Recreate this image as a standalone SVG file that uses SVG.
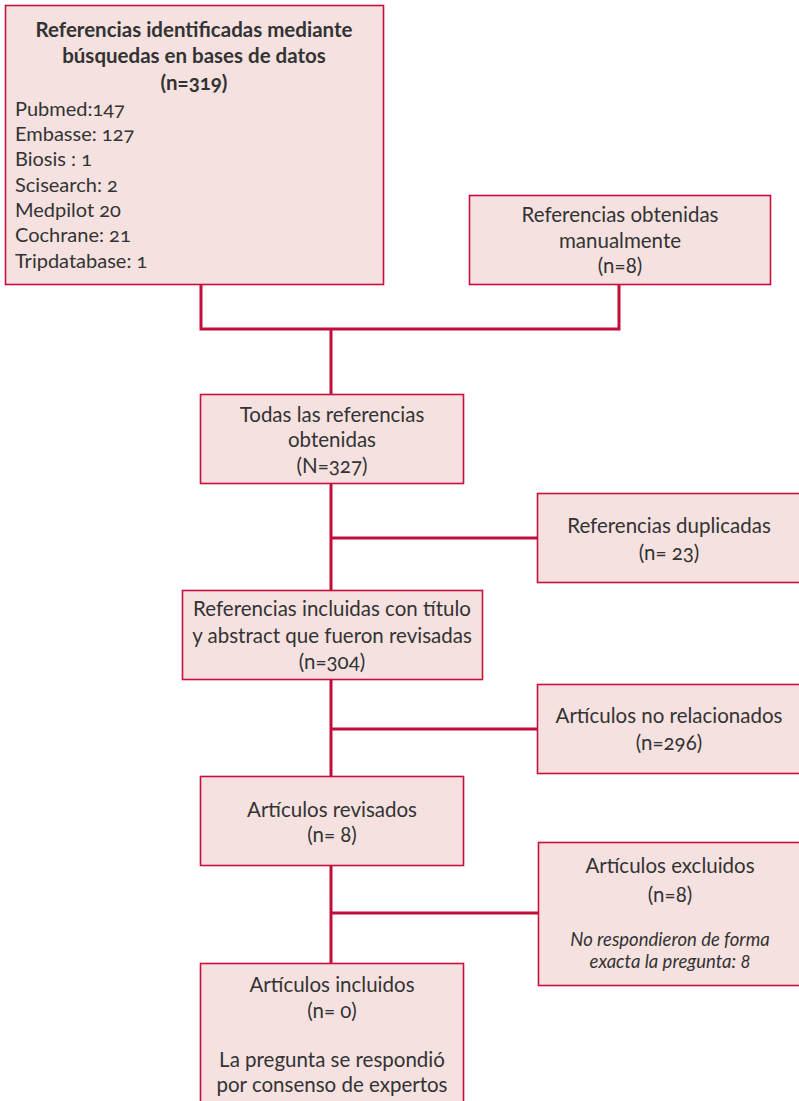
<svg xmlns="http://www.w3.org/2000/svg" width="799" height="1101" viewBox="0 0 799 1101">
<style>
.box{fill:#F5E1E0;stroke:#C8103E;stroke-width:1.6}
.con{fill:none;stroke:#C00D3A;stroke-width:3}
text{font-family:Lato,"Open Sans","Liberation Sans",sans-serif;font-size:20.5px;fill:#333333;font-variant-numeric:oldstyle-nums}
.l{font-size:20px}
.c{text-anchor:middle}
.b{font-weight:bold;font-size:20.5px}
.i{font-style:italic;font-size:18.5px}
</style>
<rect width="799" height="1101" fill="#ffffff"/>
<g id="connectors">
<path class="con" d="M201 284V329H619V285M331 329V394"/>
<path class="con" d="M331 484V590M331 538H537"/>
<path class="con" d="M331 679V776M331 729H537"/>
<path class="con" d="M331 865V963M331 913H538"/>
</g>
<g id="n1">
<rect class="box" x="5.5" y="5.5" width="378" height="279"/>
<text class="c b" x="194" y="37">Referencias identificadas mediante</text>
<text class="c b" x="194" y="63">búsquedas en bases de datos</text>
<text class="c b" x="194" y="90">(n=319)</text>
<text class="l" x="15" y="116">Pubmed:147</text>
<text class="l" x="15" y="141">Embasse: 127</text>
<text class="l" x="15" y="166">Biosis : 1</text>
<text class="l" x="15" y="192">Scisearch: 2</text>
<text class="l" x="15" y="217">Medpilot 20</text>
<text class="l" x="15" y="242">Cochrane: 21</text>
<text class="l" x="15" y="268">Tripdatabase: 1</text>
</g>
<g id="n2">
<rect class="box" x="469.5" y="195.5" width="301" height="89"/>
<text class="c" x="620" y="222">Referencias obtenidas</text>
<text class="c" x="620" y="248">manualmente</text>
<text class="c" x="620" y="273">(n=8)</text>
</g>
<g id="n3">
<rect class="box" x="200.5" y="394.5" width="263" height="89"/>
<text class="c" x="332" y="422">Todas las referencias</text>
<text class="c" x="332" y="447">obtenidas</text>
<text class="c" x="332" y="473">(N=327)</text>
</g>
<g id="n4">
<rect class="box" x="537.5" y="493.5" width="270" height="89"/>
<text class="c" x="669" y="533">Referencias duplicadas</text>
<text class="c" x="669" y="560">(n= 23)</text>
</g>
<g id="n5">
<rect class="box" x="182.5" y="590.5" width="300" height="89"/>
<text class="c" x="332" y="616">Referencias incluidas con título</text>
<text class="c" x="332" y="643">y abstract que fueron revisadas</text>
<text class="c" x="332" y="669">(n=304)</text>
</g>
<g id="n6">
<rect class="box" x="537.5" y="684.5" width="270" height="89"/>
<text class="c" x="669" y="723">Artículos no relacionados</text>
<text class="c" x="669" y="750">(n=296)</text>
</g>
<g id="n7">
<rect class="box" x="200.5" y="776.5" width="263" height="89"/>
<text class="c" x="332" y="817">Artículos revisados</text>
<text class="c" x="332" y="842">(n= 8)</text>
</g>
<g id="n8">
<rect class="box" x="538.5" y="842.5" width="270" height="143"/>
<text class="c" x="670" y="873">Artículos excluidos</text>
<text class="c" x="670" y="902">(n=8)</text>
<text class="c i" x="670" y="946">No respondieron de forma</text>
<text class="c i" x="670" y="968">exacta la pregunta: 8</text>
</g>
<g id="n9">
<rect class="box" x="200.5" y="963.5" width="263" height="150"/>
<text class="c" x="332" y="992">Artículos incluidos</text>
<text class="c" x="332" y="1018">(n= 0)</text>
<text class="c" x="332" y="1067">La pregunta se respondió</text>
<text class="c" x="332" y="1092">por consenso de expertos</text>
</g>
</svg>
